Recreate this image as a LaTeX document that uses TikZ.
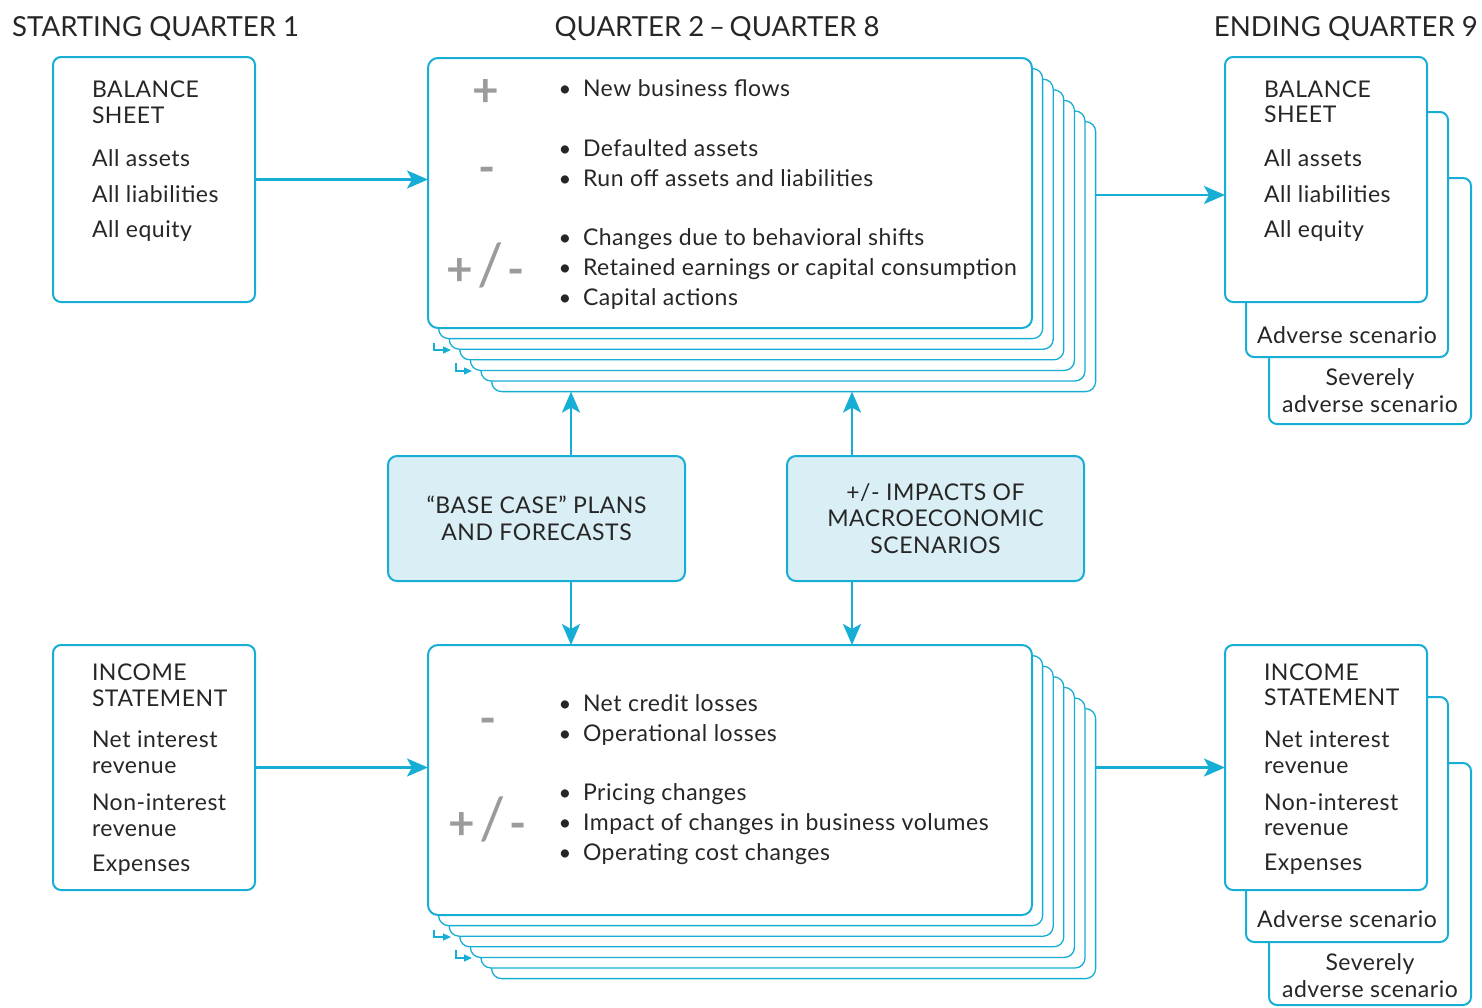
\documentclass[tikz,border=0pt]{standalone}
\usepackage{fontspec}
\setmainfont{Lato}
\newfontfamily\bodyfont{Lato}[LetterSpace=2.3]
\usetikzlibrary{arrows.meta}
\definecolor{cy}{HTML}{17AED6}
\definecolor{ink}{HTML}{262626}
\definecolor{sgn}{HTML}{9B9B9B}
\definecolor{pale}{HTML}{D9EEF5}
\begin{document}
\begin{tikzpicture}[x=1pt,y=-1pt,
  txt/.style={text=ink,font=\bodyfont\fontsize{23}{23}\selectfont,inner sep=0pt,outer sep=0pt,anchor=base west},
  ctxt/.style={txt,anchor=base},
  dot/.style={text=ink,font=\fontsize{22}{22}\selectfont,inner sep=0pt,anchor=base},
  head/.style={text=ink,font=\fontsize{27.6}{28}\selectfont,inner sep=0pt,anchor=base west},
  box/.style={draw=cy,line width=2pt,rounded corners=8pt,fill=white,inner sep=0pt,outer sep=0pt,anchor=north west,minimum width=202pt,minimum height=245pt},
  card/.style={box,minimum width=604pt,minimum height=270pt,rounded corners=10pt},
  backcard/.style={card,line width=1.3pt},
  panel/.style={draw=cy,line width=2pt,rounded corners=9pt,fill=pale,inner sep=0pt,outer sep=0pt,anchor=north west,minimum width=297pt,minimum height=125pt},
  ptxt/.style={text=ink,font=\bodyfont\fontsize{23}{26.5}\selectfont,align=center,inner sep=0pt},
  flow/.style={draw=cy,line width=2.4pt,-{Stealth[length=21pt,width=18pt,inset=5pt]}},
  elbow/.style={draw=cy,line width=1.3pt,-{Triangle[length=8pt,width=7pt]}},
  sign/.style={text=sgn,font=\fontsize{46}{46}\selectfont\bfseries,inner sep=0pt,anchor=center},
]
\useasboundingbox (0,0) rectangle (1482,1007);
% column headings
\node[head] (t1) at (12,36) {STARTING QUARTER 1};
\node[head,anchor=base] (t2) at (717,36) {QUARTER 2\,–\,QUARTER 8};
\node[head,anchor=base east] (t3) at (1478,36) {ENDING QUARTER 9};

% ---------- balance sheet row ----------
\node[box] (lbs) at (53,57) {};
\node[txt] (lbs1) at (92,97) {BALANCE};
\node[txt] (lbs2) at (92,123) {SHEET};
\node[txt] (lbs3) at (92,166) {All assets};
\node[txt] (lbs4) at (92,202) {All liabilities};
\node[txt] (lbs5) at (92,237) {All equity};

% stack of quarterly cards (back to front)
\foreach \k in {6,5,...,1}
  \node[backcard] (top\k) at ({428+10.6*\k},{58+10.6*\k}) {};
\node[card] (top0) at (428,58) {};
\node[sign] (ts1) at (486,93) {+};
\node[sign] (ts2) at (487,175) {-};
\node[sign] (ts3) at (486,265) {+\kern4pt{\mdseries\fontsize{58}{58}\selectfont /}\kern4pt-};
\foreach \by/\bt [count=\i] in {96/New business flows,156/Defaulted assets,186/Run off assets and liabilities,245/Changes due to behavioral shifts,275/Retained earnings or capital consumption,305/Capital actions}{
  \node[dot] (td\i) at (565,\by) {\textbullet};
  \node[txt] (tb\i) at (583,\by) {\bt};
}
\coordinate (te1a) at (434,343); \coordinate (te1b) at (451,350);
\coordinate (te2a) at (456,363); \coordinate (te2b) at (472,371);
\draw[elbow] (te1a) |- (te1b);
\draw[elbow] (te2a) |- (te2b);

% ending balance sheet under three scenarios
\node[box,minimum height=246pt] (rbs3) at (1269,178) {};
\node[box] (rbs2) at (1246,112) {};
\node[box] (rbs) at (1225,57) {};
\node[txt] (rbs1t) at (1264,97) {BALANCE};
\node[txt] (rbs2t) at (1264,122) {SHEET};
\node[txt] (rbs3t) at (1264,166) {All assets};
\node[txt] (rbs4t) at (1264,202) {All liabilities};
\node[txt] (rbs5t) at (1264,237) {All equity};
\node[ctxt] (rbsa) at (1347,343) {Adverse scenario};
\node[ctxt] (rbsb) at (1370,385) {Severely};
\node[ctxt] (rbsc) at (1370,412) {adverse scenario};

% ---------- driver panels ----------
\node[panel] (base) at (388,456) {};
\node[ptxt] (baset) at (base.center) {“BASE CASE” PLANS\\AND FORECASTS};
\node[panel] (macro) at (787,456) {};
\node[ptxt] (macrot) at (macro.center) {+/- IMPACTS OF\\MACROECONOMIC\\SCENARIOS};

% ---------- income statement row ----------
\node[box] (lis) at (53,645) {};
\node[txt] (lis1) at (92,680) {INCOME};
\node[txt] (lis2) at (92,706) {STATEMENT};
\node[txt] (lis3) at (92,747) {Net interest};
\node[txt] (lis4) at (92,773) {revenue};
\node[txt] (lis5) at (92,810) {Non-interest};
\node[txt] (lis6) at (92,836) {revenue};
\node[txt] (lis7) at (92,871) {Expenses};

\foreach \k in {6,5,...,1}
  \node[backcard] (bot\k) at ({428+10.6*\k},{645+10.6*\k}) {};
\node[card] (bot0) at (428,645) {};
\node[sign] (bs1) at (488,726) {-};
\node[sign] (bs2) at (488,819) {+\kern4pt{\mdseries\fontsize{58}{58}\selectfont /}\kern4pt-};
\foreach \by/\bt [count=\i] in {711/Net credit losses,741/Operational losses,800/Pricing changes,830/Impact of changes in business volumes,860/Operating cost changes}{
  \node[dot] (bd\i) at (565,\by) {\textbullet};
  \node[txt] (bb\i) at (583,\by) {\bt};
}
\coordinate (be1a) at (434,930); \coordinate (be1b) at (451,937);
\coordinate (be2a) at (456,950); \coordinate (be2b) at (472,958);
\draw[elbow] (be1a) |- (be1b);
\draw[elbow] (be2a) |- (be2b);

\node[box,minimum height=242pt] (ris3) at (1269,763) {};
\node[box] (ris2) at (1246,697) {};
\node[box] (ris) at (1225,645) {};
\node[txt] (ris1t) at (1264,680) {INCOME};
\node[txt] (ris2t) at (1264,705) {STATEMENT};
\node[txt] (ris3t) at (1264,747) {Net interest};
\node[txt] (ris4t) at (1264,773) {revenue};
\node[txt] (ris5t) at (1264,810) {Non-interest};
\node[txt] (ris6t) at (1264,835) {revenue};
\node[txt] (ris7t) at (1264,870) {Expenses};
\node[ctxt] (risa) at (1347,927) {Adverse scenario};
\node[ctxt] (risb) at (1370,970) {Severely};
\node[ctxt] (risc) at (1370,997) {adverse scenario};

% ---------- connectors ----------
\coordinate (colA) at (571,0);
\coordinate (colB) at (852,0);
\draw[flow] (lbs.east) -- (lbs.east -| top0.west);
\draw[flow] ([yshift=-2pt]top6.east |- top0.east) -- ([yshift=-2pt]rbs.west |- top0.east);
\draw[flow] (lis.east) -- (lis.east -| bot0.west);
\draw[flow] (bot6.east |- lis.east) -- (ris.west |- lis.east);
\draw[flow] (colA |- base.north) -- (colA |- top6.south);
\draw[flow] (colB |- macro.north) -- (colB |- top6.south);
\draw[flow] (colA |- base.south) -- (colA |- bot0.north);
\draw[flow] (colB |- macro.south) -- (colB |- bot0.north);
\end{tikzpicture}
\end{document}
